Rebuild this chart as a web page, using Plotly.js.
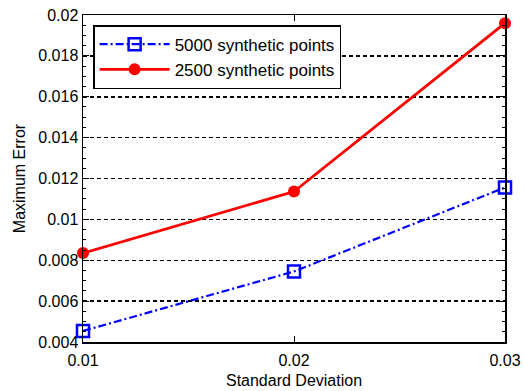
<!DOCTYPE html>
<html>
<head>
<meta charset="utf-8">
<script src="https://cdn.plot.ly/plotly-3.0.1.min.js"></script>
<style>html,body{margin:0;padding:0;background:#fff;}#chart{width:524px;height:391px;}</style>
</head>
<body>
<div id="chart"></div>
<script>
const stdDev = [0.01, 0.02, 0.03];
const err5000 = [0.00454, 0.00745, 0.01156];
const err2500 = [0.00835, 0.01136, 0.0196];
const xTickVals = [0.01, 0.02, 0.03];
const xTickText = ['0.01', '0.02', '0.03'];
const yTickVals = [0.004, 0.006, 0.008, 0.01, 0.012, 0.014, 0.016, 0.018, 0.02];
const yTickText = ['0.004', '0.006', '0.008', '0.01', '0.012', '0.014', '0.016', '0.018', '0.02'];

const font = {family: 'Liberation Sans, Arial, sans-serif', color: '#000'};

const traces = [
  {
    x: stdDev, y: err5000, name: '5000 synthetic points', type: 'scatter', mode: 'lines+markers',
    line: {color: '#0000ff', width: 2.2, dash: '8px,3px,2px,3px'},
    marker: {symbol: 'square-open', size: 12, color: '#0000ff', line: {width: 2.5, color: '#0000ff'}},
    cliponaxis: false
  },
  {
    x: stdDev, y: err2500, name: '2500 synthetic points', type: 'scatter', mode: 'lines+markers',
    line: {color: '#ff0000', width: 2.8},
    marker: {symbol: 'circle', size: 12, color: '#ff0000'},
    cliponaxis: false
  }
];

const layout = {
  width: 524, height: 391,
  margin: {l: 83, r: 19, t: 15, b: 49},
  paper_bgcolor: '#fff', plot_bgcolor: '#fff',
  font: Object.assign({size: 16}, font),
  showlegend: true,
  legend: {
    x: 0.024, y: 0.969, xanchor: 'left', yanchor: 'top',
    bgcolor: '#fff', bordercolor: '#000', borderwidth: 1.5,
    font: Object.assign({size: 17}, font),
    tracegroupgap: 0, itemwidth: 70
  },
  xaxis: {
    range: [0.01, 0.03], tickvals: xTickVals, ticktext: xTickText,
    showgrid: false, zeroline: false,
    showline: true, linecolor: '#000', linewidth: 1.5, mirror: 'ticks',
    ticks: 'inside', ticklen: 6, tickcolor: '#000', tickwidth: 1,
    tickfont: Object.assign({size: 16}, font),
    ticklabelstandoff: 3,
    title: {text: 'Standard Deviation', font: Object.assign({size: 16}, font), standoff: 7}
  },
  yaxis: {
    range: [0.004, 0.02], tickvals: yTickVals, ticktext: yTickText,
    showgrid: true, gridcolor: '#000', griddash: '4px,3px', gridwidth: 1.5,
    zeroline: false,
    showline: true, linecolor: '#000', linewidth: 1.5, mirror: 'ticks',
    ticks: 'inside', ticklen: 6, tickcolor: '#000', tickwidth: 1,
    tickfont: Object.assign({size: 16}, font),
    minor: {dtick: 0.0005, ticks: 'inside', ticklen: 3, tickcolor: '#000', showgrid: false},
    title: {text: 'Maximum Error', font: Object.assign({size: 16}, font), standoff: 8}
  }
};

Plotly.newPlot('chart', traces, layout, {displayModeBar: false, staticPlot: true});
</script>
</body>
</html>
